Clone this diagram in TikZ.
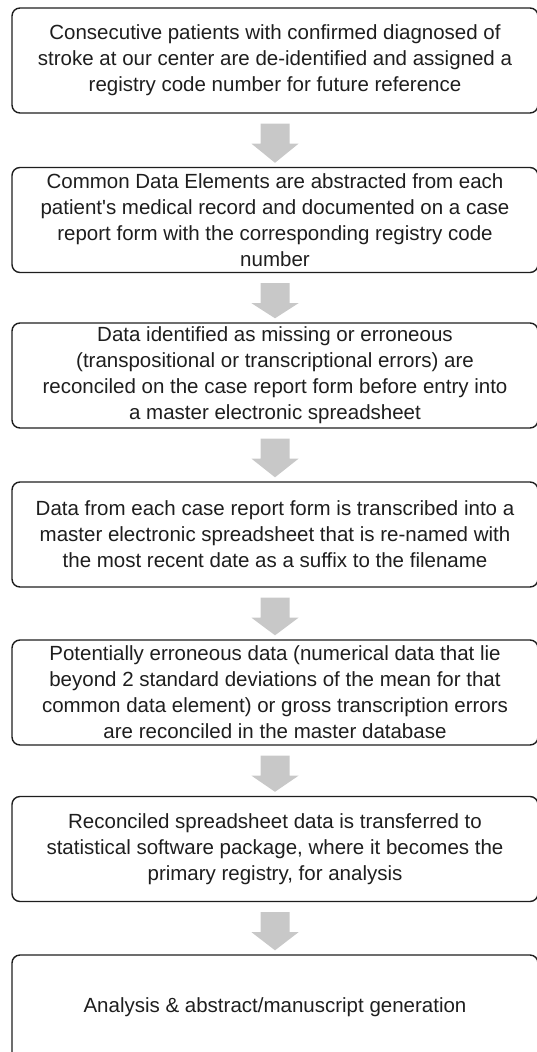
\documentclass[tikz,border=0pt]{standalone}
\usepackage{fontspec}
\setmainfont{Liberation Sans}
\usetikzlibrary{calc}
\definecolor{inkc}{HTML}{1E1E1E}
\definecolor{arrowgray}{HTML}{C8C8C8}
\tikzset{
  stepbox/.style={draw=inkc, line width=1.4pt, rounded corners=8pt,
    minimum width=526pt, minimum height=105pt, inner sep=0pt,
    align=center, text=inkc,
    font=\fontsize{20.5}{26}\selectfont},
  flowarrow/.style={fill=arrowgray, draw=none}
}
% block arrow hanging below box #1, pointing at box #2 (y grows downwards)
\newcommand\blockarrow[2]{%
  \fill[flowarrow] ($(#1.south)+(-14.5,10)$) -- ++(29,0) -- ++(0,20)
    -- ++(9,0) -- ($(#2.north)+(0,-4)$) -- ($(#1.south)+(-23.5,30)$)
    -- ++(9,0) -- cycle;}
\begin{document}
\begin{tikzpicture}[x=1pt, y=-1pt]
\useasboundingbox (0,0) rectangle (537,1052);
\clip (0,0) rectangle (537,1052);
\node[stepbox] (b1) at (275,60.5) {Consecutive patients with confirmed diagnosed of\\stroke at our center are de-identified and assigned a\\registry code number for future reference};
\node[stepbox] (b2) at (275,220) {Common Data Elements are abstracted from each\\patient\textquotesingle s medical record and documented on a case\\report form with the corresponding registry code\\number};
\node[stepbox] (b3) at (275,375.5) {Data identified as missing or erroneous\\(transpositional or transcriptional errors) are\\reconciled on the case report form before entry into\\a master electronic spreadsheet};
\node[stepbox] (b4) at (275,534.5) {Data from each case report form is transcribed into a\\master electronic spreadsheet that is re-named with\\the most recent date as a suffix to the filename};
\node[stepbox] (b5) at (275,692.5) {Potentially erroneous data (numerical data that lie\\beyond 2 standard deviations of the mean for that\\common data element) or gross transcription errors\\are reconciled in the master database};
\node[stepbox] (b6) at (275,849) {Reconciled spreadsheet data is transferred to\\statistical software package, where it becomes the\\primary registry, for analysis};
\node[stepbox] (b7) at (275,1007.5) {Analysis \& abstract/manuscript generation};
\blockarrow{b1}{b2}
\blockarrow{b2}{b3}
\blockarrow{b3}{b4}
\blockarrow{b4}{b5}
\blockarrow{b5}{b6}
\blockarrow{b6}{b7}
\end{tikzpicture}
\end{document}
